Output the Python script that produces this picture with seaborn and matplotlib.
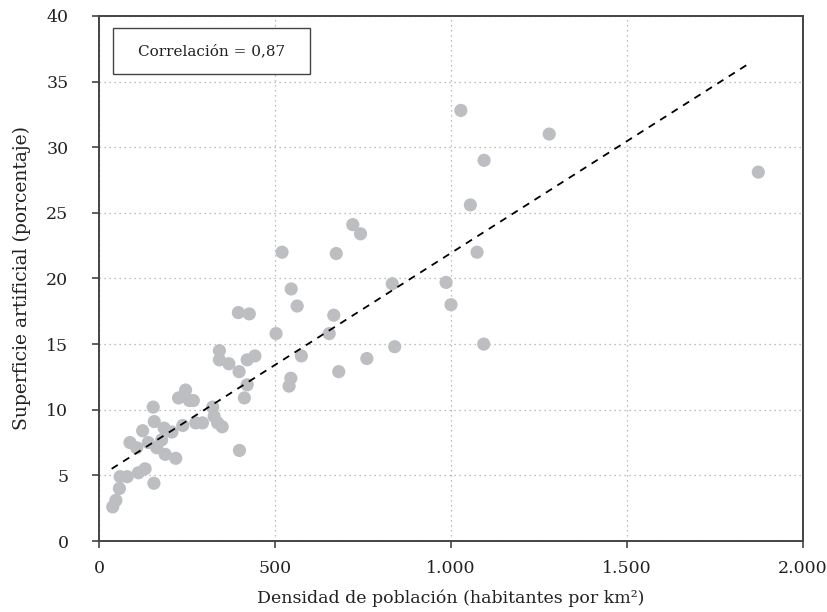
import matplotlib
matplotlib.use("Agg")
import matplotlib.pyplot as plt
from matplotlib.patches import Rectangle
from matplotlib.ticker import FuncFormatter
import seaborn as sns
import pandas as pd

# datos
densidad = [39, 48, 58, 60, 80, 88, 107, 112, 131, 124, 140, 156, 154, 157, 164,
            178, 185, 188, 207, 218, 226, 238, 246, 257, 268, 275, 294, 323, 327,
            337, 350, 342, 342, 369, 396, 427, 398, 399, 413, 421, 421, 443, 503,
            520, 674, 743, 546, 563, 833, 986, 1000, 667, 654, 840, 575, 761, 681,
            545, 540, 721, 1028, 1279, 1094, 1055, 1074, 1093, 1873]
superficie = [2.6, 3.1, 4.0, 4.9, 4.9, 7.5, 7.1, 5.2, 5.5, 8.4, 7.5, 4.4, 10.2, 9.1,
              7.1, 7.7, 8.6, 6.6, 8.3, 6.3, 10.9, 8.8, 11.5, 10.7, 10.7, 9.0, 9.0,
              10.2, 9.5, 9.0, 8.7, 14.5, 13.8, 13.5, 17.4, 17.3, 12.9, 6.9, 10.9,
              11.9, 13.8, 14.1, 15.8, 22.0, 21.9, 23.4, 19.2, 17.9, 19.6, 19.7, 18.0,
              17.2, 15.8, 14.8, 14.1, 13.9, 12.9, 12.4, 11.8, 24.1, 32.8, 31.0, 29.0,
              25.6, 22.0, 15.0, 28.1]
tendencia_x = [36, 1854]
tendencia_y = [5.5, 36.5]
x_ticks = [0, 500, 1000, 1500, 2000]
y_ticks = [0, 5, 10, 15, 20, 25, 30, 35, 40]
correlacion = "Correlación = 0,87"

df = pd.DataFrame({"densidad": densidad, "superficie": superficie})

sns.set_style("white")
plt.rcParams["font.family"] = ["DejaVu Serif", "Liberation Serif"]

fig = plt.figure(figsize=(8.27, 6.12), dpi=100)
ax = fig.add_axes([0.1197, 0.116, 0.8513, 0.858])

sns.scatterplot(data=df, x="densidad", y="superficie", ax=ax, s=90,
                color="#bdbec1", edgecolor="none", zorder=3)
sns.lineplot(x=tendencia_x, y=tendencia_y, ax=ax, color="black", lw=1.3,
             dashes=(4, 3.5), zorder=4)

ax.set_xlim(0, 2000)
ax.set_ylim(0, 40)
ax.set_xticks(x_ticks)
ax.set_yticks(y_ticks)
ax.xaxis.set_major_formatter(FuncFormatter(lambda v, p: f"{int(v):,}".replace(",", ".")))
ax.grid(True, color="#a8a8a8", linestyle=(0, (1, 3)), lw=0.9, zorder=0)

for s in ax.spines.values():
    s.set_color("#444444")
    s.set_linewidth(1.4)
ax.tick_params(axis="both", which="major", direction="out", length=5, width=1.2,
               color="#444444", labelsize=12.5, left=True, bottom=True,
               labelcolor="#222222")
ax.tick_params(axis="y", pad=17)
ax.tick_params(axis="x", pad=9)

ax.set_xlabel("Densidad de población (habitantes por km²)", fontsize=12.5,
              labelpad=9, color="#222222")
ax.set_ylabel("Superficie artificial (porcentaje)", fontsize=13.5, labelpad=11,
              color="#222222")

ax.add_patch(Rectangle((0.020, 0.8895), 0.280, 0.0876, transform=ax.transAxes,
                       facecolor="white", edgecolor="#444444", lw=1.0, zorder=5))
ax.text(0.160, 0.933, correlacion, transform=ax.transAxes, ha="center", va="center",
        fontsize=11, color="#222222", zorder=6)

fig.savefig("out.png", dpi=100)
